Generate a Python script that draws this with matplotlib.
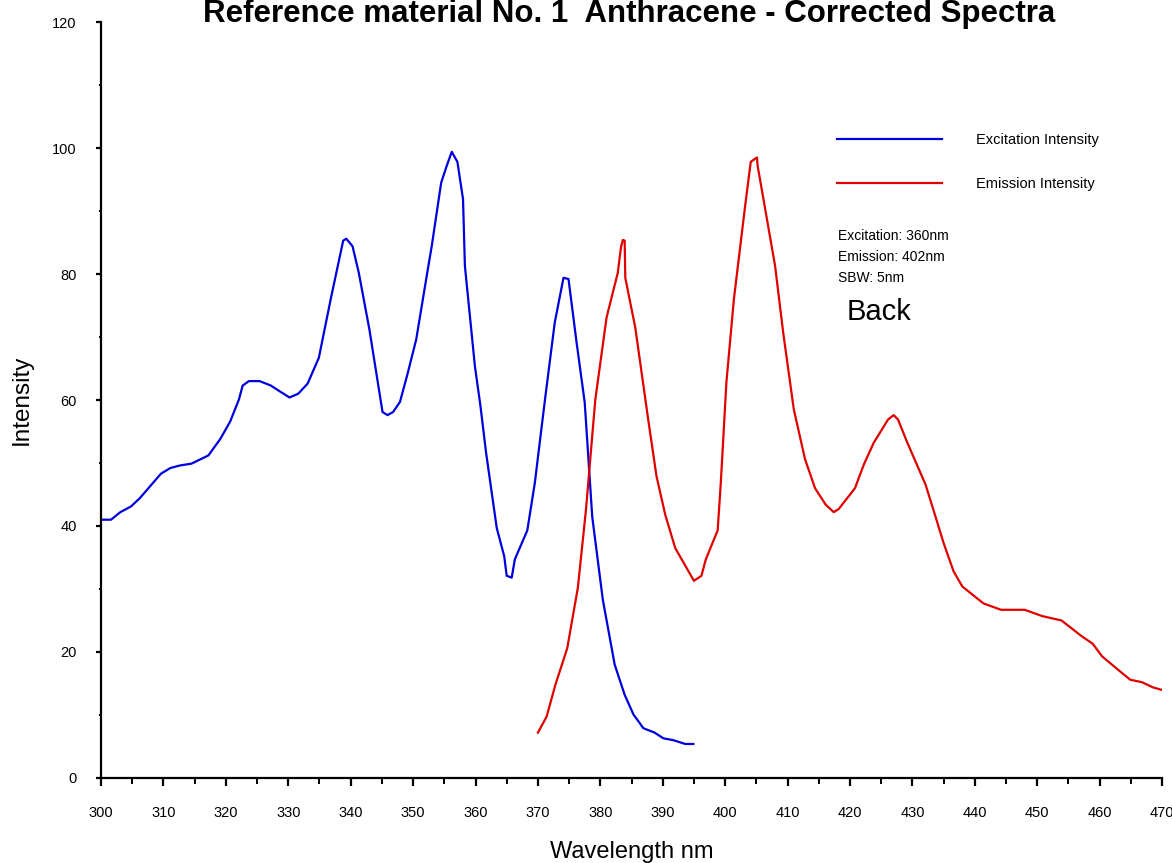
import matplotlib
matplotlib.use('Agg')
import matplotlib.pyplot as plt
from matplotlib.ticker import MultipleLocator

plt.rcParams['font.family'] = ['Liberation Sans', 'DejaVu Sans']

# excitation scan (emission fixed at 402 nm)
ex_wl = [300.0, 301.6, 303.1, 304.8, 306.2, 309.6, 311.1, 312.6, 314.5, 317.2,
         319.1, 320.7, 322.1, 322.7, 323.7, 325.4, 327.2, 328.6, 330.2, 331.6,
         333.1, 334.9, 336.8, 338.8, 339.3, 340.3, 341.3, 343.0, 345.1, 345.9,
         346.8, 347.9, 349.1, 350.5, 352.1, 353.0, 354.5, 355.4, 356.2, 357.1,
         358.0, 358.3, 359.9, 360.8, 361.7, 363.4, 364.6, 365.0, 365.8, 366.3,
         368.3, 369.5, 371.2, 372.7, 374.1, 374.9, 376.2, 377.5, 378.7, 380.4,
         382.3, 383.9, 385.3, 386.9, 388.7, 390.1, 391.7, 393.6, 394.9]
ex_int = [41.0, 41.0, 42.2, 43.1, 44.4, 48.3, 49.2, 49.6, 49.9, 51.2,
          53.8, 56.6, 60.1, 62.3, 63.0, 63.0, 62.3, 61.4, 60.4, 61.0,
          62.6, 66.7, 76.0, 85.3, 85.6, 84.4, 80.2, 71.2, 58.1, 57.6,
          58.1, 59.7, 64.1, 69.6, 79.2, 84.5, 94.5, 97.2, 99.4, 97.8,
          91.9, 81.3, 65.4, 59.0, 51.6, 39.7, 35.2, 32.1, 31.8, 34.7,
          39.3, 46.8, 60.6, 72.3, 79.4, 79.2, 69.1, 59.6, 41.5, 28.3,
          18.0, 13.2, 10.1, 7.9, 7.2, 6.3, 6.0, 5.4, 5.4]

# emission scan (excitation fixed at 360 nm)
em_wl = [370.0, 371.4, 372.8, 374.7, 376.4, 377.7, 379.2, 381.0, 382.8, 383.3,
         383.6, 383.9, 384.0, 385.6, 387.6, 389.0, 390.4, 392.0, 395.0, 396.2,
         396.9, 398.8, 399.3, 400.2, 401.4, 403.2, 404.1, 405.1, 405.2, 408.0,
         409.3, 411.0, 412.8, 414.4, 416.1, 417.4, 418.2, 420.8, 422.2, 423.8,
         426.1, 427.0, 427.7, 429.2, 432.1, 433.7, 435.0, 436.6, 438.0, 441.4,
         444.2, 448.0, 450.8, 453.9, 457.0, 458.9, 460.4, 463.3, 464.9, 466.8,
         468.5, 469.9]
em_int = [7.2, 9.75, 14.8, 20.6, 30.2, 42.6, 60.1, 73.1, 80.2, 84.2,
          85.4, 85.3, 79.4, 71.5, 57.4, 47.9, 41.8, 36.5, 31.3, 32.1,
          34.7, 39.3, 46.8, 62.8, 76.0, 90.8, 97.8, 98.5, 97.2, 81.3,
          70.7, 58.5, 50.6, 46.0, 43.4, 42.2, 42.7, 46.0, 49.7, 53.2,
          56.9, 57.6, 56.9, 53.2, 46.6, 41.5, 37.3, 32.8, 30.4, 27.7,
          26.7, 26.7, 25.7, 25.0, 22.6, 21.3, 19.3, 16.9, 15.6, 15.2,
          14.4, 14.0]

BLUE = '#0000dd'
RED = '#e00000'

fig = plt.figure(figsize=(11.72, 8.63), dpi=100)
ax = fig.add_axes([0.0862, 0.0985, 0.9053, 0.876])

ax.plot(ex_wl, ex_int, color=BLUE, lw=1.6, label='Excitation Intensity')
ax.plot(em_wl, em_int, color=RED, lw=1.6, label='Emission Intensity')

ax.set_xlim(300, 470)
ax.set_ylim(0, 120)
ax.xaxis.set_major_locator(MultipleLocator(10))
ax.xaxis.set_minor_locator(MultipleLocator(5))
ax.yaxis.set_major_locator(MultipleLocator(20))
ax.yaxis.set_minor_locator(MultipleLocator(10))

for side in ['top', 'right']:
    ax.spines[side].set_visible(False)
for side in ['left', 'bottom']:
    ax.spines[side].set_linewidth(1.6)

ax.tick_params(axis='x', which='major', length=6, width=1.6, pad=14, labelsize=10.5)
ax.tick_params(axis='x', which='minor', length=4.5, width=1.4)
ax.tick_params(axis='y', which='major', length=3.6, width=1.6, pad=14, labelsize=10.5)
ax.tick_params(axis='y', which='minor', length=1.5, width=1.4)

ax.set_xlabel('Wavelength nm', fontsize=17, labelpad=15)
ax.set_ylabel('Intensity', fontsize=17.5, labelpad=14)

fig.text(0.5365, 1 - 22 / 863, 'Reference material No. 1  Anthracene - Corrected Spectra',
         fontsize=22.5, fontweight='bold', ha='center', va='baseline')

ax.legend(loc='upper left', bbox_to_anchor=(837 / 1172, 1 - 133 / 863),
          bbox_transform=fig.transFigure, frameon=False, fontsize=10.5,
          handlelength=7.2, handletextpad=2.3, labelspacing=2.08, borderpad=0,
          borderaxespad=0)

info = ['Excitation: 360nm', 'Emission: 402nm', 'SBW: 5nm']
for i, line in enumerate(info):
    fig.text(838 / 1172, 1 - (236 + 21 * i) / 863, line, fontsize=10,
             ha='left', va='center')
fig.text(847 / 1172, 1 - 312 / 863, 'Back', fontsize=21, ha='left', va='center')

fig.savefig('out.png', dpi=100)
